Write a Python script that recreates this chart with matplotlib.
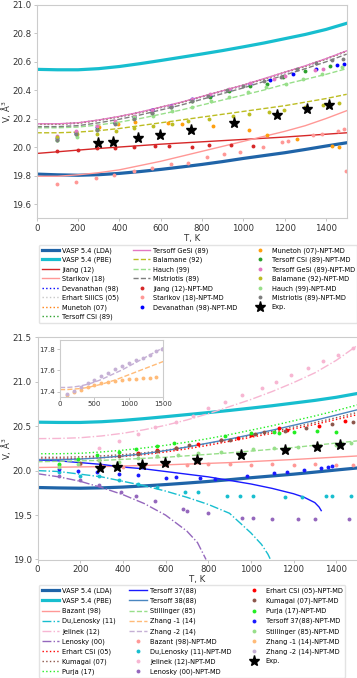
import matplotlib
matplotlib.use("Agg")
import matplotlib.pyplot as plt

plt.rcParams['font.family'] = ['DejaVu Sans']
plt.rcParams['axes.edgecolor'] = '#cccccc'
plt.rcParams['xtick.color'] = '#bbbbbb'
plt.rcParams['ytick.color'] = '#bbbbbb'
plt.rcParams['xtick.labelcolor'] = '#333333'
plt.rcParams['ytick.labelcolor'] = '#333333'

# ---------------- data: top panel ----------------
T16 = [0, 100, 200, 300, 400, 500, 600, 700, 800, 900, 1000, 1100, 1200, 1300, 1400, 1500]
vasp_lda = [19.810, 19.805, 19.802, 19.806, 19.815, 19.828, 19.843, 19.860, 19.878, 19.898,
            19.920, 19.940, 19.960, 19.983, 20.007, 20.030]
vasp_pbe = [20.545, 20.542, 20.542, 20.550, 20.565, 20.585, 20.607, 20.630, 20.653, 20.677,
            20.703, 20.730, 20.760, 20.790, 20.825, 20.868]
T6 = [0, 300, 600, 900, 1200, 1500]
jiang = [19.955, 19.99, 20.02, 20.045, 20.07, 20.10]
starikov = [19.795, 19.795, 19.805, 19.82, 19.84, 19.87, 19.90, 19.935, 19.97, 20.005,
            20.04, 20.075, 20.11, 20.15, 20.20, 20.255]
devanathan = [20.160, 20.160, 20.167, 20.187, 20.212, 20.242, 20.277, 20.312, 20.352, 20.392,
              20.432, 20.477, 20.522, 20.567, 20.617, 20.672]
erhart_si = [20.158, 20.158, 20.165, 20.185, 20.210, 20.240, 20.275, 20.310, 20.350, 20.390,
             20.430, 20.475, 20.520, 20.565, 20.615, 20.670]
munetoh = [20.161, 20.161, 20.168, 20.188, 20.213, 20.243, 20.278, 20.313, 20.353, 20.393,
           20.433, 20.478, 20.523, 20.568, 20.618, 20.673]
tersoff_csi = [20.162, 20.162, 20.169, 20.189, 20.214, 20.244, 20.279, 20.314, 20.354, 20.394,
               20.434, 20.479, 20.524, 20.569, 20.619, 20.674]
tersoff_gesi = [20.163, 20.163, 20.170, 20.190, 20.215, 20.245, 20.280, 20.315, 20.355, 20.395,
                20.435, 20.480, 20.525, 20.570, 20.620, 20.675]
balamane = [20.10, 20.10, 20.105, 20.115, 20.13, 20.15, 20.17, 20.19, 20.21, 20.23,
            20.25, 20.27, 20.29, 20.315, 20.34, 20.37]
hauch = [20.135, 20.135, 20.14, 20.155, 20.175, 20.20, 20.23, 20.26, 20.295, 20.33,
         20.365, 20.40, 20.44, 20.475, 20.51, 20.55]
mistriotis = [20.143, 20.143, 20.15, 20.17, 20.195, 20.225, 20.26, 20.295, 20.335, 20.375,
              20.415, 20.46, 20.505, 20.55, 20.598, 20.652]

jiang_md_T = [100, 198, 290, 379, 473, 573, 642, 750, 835, 940, 1048]
jiang_md_V = [19.972, 19.979, 19.99, 19.995, 19.998, 20.007, 20.01, 19.998, 20.014, 20.014, 20.01]
starikov_md_T = [100, 190, 285, 376, 473, 556, 648, 731, 826, 906, 984, 1097, 1185, 1216, 1335, 1379, 1460, 1489, 1495]
starikov_md_V = [19.74, 19.758, 19.78, 19.805, 19.833, 19.853, 19.879, 19.886, 19.928, 19.95,
                 19.967, 20.002, 20.033, 20.044, 20.084, 20.088, 20.112, 20.128, 19.83]
devanathan_md_T = [100, 190, 290, 380, 470, 560, 650, 750, 840, 930, 1030, 1129, 1242, 1350, 1452, 1487]
devanathan_md_V = [20.06, 20.10, 20.14, 20.17, 20.21, 20.26, 20.29, 20.335, 20.36, 20.40,
                   20.44, 20.467, 20.514, 20.55, 20.577, 20.58]
munetoh_md_T = [300, 395, 476, 637, 702, 855, 1029, 1113, 1258, 1431, 1465]
munetoh_md_V = [20.14, 20.165, 20.174, 20.17, 20.165, 20.147, 20.123, 20.086, 20.056, 20.007, 20.0]
tersoff_csi_md_T = [100, 190, 290, 380, 470, 560, 650, 750, 840, 930, 1032, 1113, 1190, 1298, 1419]
tersoff_csi_md_V = [20.05, 20.09, 20.13, 20.17, 20.21, 20.24, 20.28, 20.32, 20.35, 20.39,
                    20.43, 20.44, 20.49, 20.53, 20.57]
tersoff_gesi_md_T = [100, 190, 290, 380, 470, 560, 650, 750, 840, 930, 1030, 1150, 1200, 1347, 1384]
tersoff_gesi_md_V = [20.075, 20.11, 20.15, 20.18, 20.22, 20.26, 20.29, 20.34, 20.37, 20.41,
                     20.45, 20.48, 20.50, 20.54, 20.55]
balamane_md_T = [100, 197, 290, 382, 473, 565, 656, 734, 835, 952, 1029, 1126, 1198, 1298, 1387, 1465]
balamane_md_V = [20.067, 20.09, 20.09, 20.114, 20.135, 20.149, 20.16, 20.18, 20.20, 20.216,
                 20.23, 20.247, 20.263, 20.28, 20.293, 20.31]
hauch_md_T = [100, 197, 290, 382, 473, 565, 656, 750, 842, 932, 1021, 1110, 1205, 1290, 1379, 1479]
hauch_md_V = [20.05, 20.07, 20.12, 20.17, 20.21, 20.22, 20.25, 20.28, 20.32, 20.35,
              20.385, 20.42, 20.44, 20.475, 20.51, 20.56]
mistriotis_md_T = [100, 190, 290, 380, 470, 560, 650, 750, 830, 920, 1000, 1100, 1180, 1260, 1350, 1430, 1480]
mistriotis_md_V = [20.05, 20.09, 20.12, 20.16, 20.20, 20.24, 20.28, 20.32, 20.36, 20.40,
                   20.43, 20.465, 20.49, 20.55, 20.59, 20.61, 20.62]

exp_T = [295, 371, 492, 598, 747, 956, 1161, 1310, 1416]
exp_V = [20.026, 20.037, 20.065, 20.086, 20.123, 20.172, 20.228, 20.267, 20.293]

# ---------------- data: bottom panel ----------------
bazant = [20.035, 20.045, 20.065, 20.09, 20.125, 20.165]
T_dulenosky = [0, 100, 200, 300, 400, 500, 600, 700, 800, 900, 1000, 1050, 1080, 1092]
du_lenosky = [20.0, 19.99, 19.96, 19.93, 19.88, 19.83, 19.77, 19.70, 19.62, 19.52, 19.30, 19.17, 19.06, 19.0]
jelinek = [20.36, 20.362, 20.37, 20.39, 20.42, 20.46, 20.51, 20.57, 20.64, 20.72,
           20.80, 20.89, 20.99, 21.10, 21.24, 21.41]
T_lenosky = [0, 100, 200, 300, 400, 500, 600, 700, 750, 790]
lenosky = [19.965, 19.93, 19.88, 19.81, 19.73, 19.63, 19.50, 19.32, 19.19, 19.0]
erhart_csi = [20.13, 20.13, 20.135, 20.145, 20.16, 20.18, 20.21, 20.245, 20.285, 20.33,
              20.375, 20.42, 20.47, 20.52, 20.575, 20.63]
kumagai = [20.15, 20.15, 20.155, 20.165, 20.18, 20.20, 20.23, 20.265, 20.305, 20.35,
           20.395, 20.44, 20.49, 20.54, 20.595, 20.655]
purja = [20.19, 20.19, 20.195, 20.21, 20.23, 20.255, 20.285, 20.32, 20.36, 20.405,
         20.455, 20.505, 20.56, 20.615, 20.675, 20.74]
T_t37 = [0, 100, 200, 300, 400, 500, 600, 700, 800, 900, 1000, 1100, 1200, 1250, 1300, 1320, 1330]
tersoff37 = [20.12, 20.11, 20.09, 20.07, 20.04, 20.02, 19.99, 19.96, 19.93, 19.89,
             19.85, 19.80, 19.74, 19.70, 19.64, 19.59, 19.55]
tersoff38 = [20.125, 20.125, 20.13, 20.145, 20.165, 20.19, 20.225, 20.265, 20.31, 20.355,
             20.405, 20.455, 20.51, 20.565, 20.625, 20.685]
stillinger = [20.10, 20.115, 20.15, 20.20, 20.26, 20.335]
zhang1 = [17.42, 17.42, 17.425, 17.43, 17.44, 17.455, 17.47, 17.49, 17.51, 17.535,
          17.56, 17.585, 17.61, 17.635, 17.66, 17.685]
zhang2 = [17.44, 17.44, 17.445, 17.455, 17.47, 17.49, 17.515, 17.545, 17.575, 17.605,
          17.64, 17.675, 17.71, 17.745, 17.78, 17.815]

bazant_md_T = [100, 200, 300, 400, 500, 600, 700, 800, 900, 1000, 1100, 1200, 1300, 1400, 1480]
bazant_md_V = [20.06, 20.08, 20.05, 20.04, 20.05, 20.06, 20.06, 20.07, 20.07, 20.06,
               20.07, 20.06, 20.07, 20.06, 20.06]
dulenosky_md_T = [100, 200, 290, 380, 470, 560, 690, 750, 890, 950, 1010, 1160, 1240, 1350, 1380, 1470]
dulenosky_md_V = [19.98, 19.94, 19.94, 19.89, 19.85, 19.82, 19.76, 19.76, 19.71, 19.71,
                  19.71, 19.70, 19.70, 19.71, 19.71, 19.71]
jelinek_md_T = [290, 380, 470, 550, 650, 730, 800, 880, 960, 1050, 1120, 1190, 1270, 1340, 1410, 1480]
jelinek_md_V = [20.25, 20.33, 20.41, 20.49, 20.55, 20.62, 20.71, 20.77, 20.85, 20.93,
                21.0, 21.08, 21.16, 21.23, 21.30, 21.38]
lenosky_md_T = [100, 200, 290, 390, 460, 550, 680, 700, 800, 960, 1010, 1100, 1220, 1300, 1460]
lenosky_md_V = [19.94, 19.90, 19.84, 19.76, 19.72, 19.66, 19.57, 19.55, 19.52, 19.47,
                19.47, 19.46, 19.46, 19.46, 19.46]
erhart_csi_md_T = [470, 560, 650, 750, 860, 940, 1000, 1130, 1170, 1320, 1440]
erhart_csi_md_V = [20.20, 20.23, 20.26, 20.30, 20.34, 20.37, 20.40, 20.48, 20.46, 20.50, 20.56]
kumagai_md_T = [200, 290, 380, 470, 560, 650, 710, 860, 900, 1020, 1060, 1160, 1260, 1380, 1480]
kumagai_md_V = [20.09, 20.12, 20.16, 20.19, 20.22, 20.26, 20.29, 20.35, 20.35, 20.41,
                20.43, 20.45, 20.48, 20.52, 20.55]
purja_md_T = [100, 190, 280, 380, 460, 560, 640, 880, 1000, 1110, 1130, 1200, 1310, 1400]
purja_md_V = [20.07, 20.13, 20.18, 20.21, 20.24, 20.28, 20.31, 20.39, 20.42, 20.44,
              20.42, 20.43, 20.45, 20.44]
tersoff37_md_T = [100, 190, 280, 380, 470, 600, 650, 760, 830, 980, 1110, 1170, 1250, 1330, 1360, 1380]
tersoff37_md_V = [20.02, 20.00, 19.98, 19.96, 19.95, 19.92, 19.93, 19.92, 19.91, 19.94,
                  19.97, 19.98, 20.01, 20.03, 20.04, 20.05]
stillinger_md_T = [100, 190, 290, 380, 470, 560, 660, 750, 860, 1010, 1110, 1220, 1320, 1400, 1470]
stillinger_md_V = [20.04, 20.07, 20.12, 20.10, 20.14, 20.17, 20.18, 20.20, 20.21, 20.24,
                   20.26, 20.27, 20.28, 20.29, 20.31]
zhang1_md_T = [100, 200, 300, 400, 500, 600, 700, 800, 900, 1000, 1100, 1200, 1300, 1400]
zhang1_md_V = [17.37, 17.40, 17.42, 17.44, 17.46, 17.48, 17.49, 17.50, 17.51, 17.52,
               17.52, 17.53, 17.53, 17.54]
zhang2_md_T = [100, 200, 300, 400, 500, 600, 700, 800, 900, 1000, 1100, 1200, 1300, 1400, 1480]
zhang2_md_V = [17.38, 17.41, 17.44, 17.48, 17.51, 17.55, 17.58, 17.61, 17.64, 17.67,
               17.70, 17.72, 17.75, 17.78, 17.80]

# ---------------- styles ----------------
C_LDA = '#1f64a8'
C_PBE = '#17becf'
MS = 2.8
LW = 1.0
FS = 6.2

fig = plt.figure(figsize=(3.57, 6.78), dpi=100)
ax1 = fig.add_axes([36.7 / 357, 1 - 218.3 / 678, 310 / 357, (218.3 - 4.5) / 678])
ax2 = fig.add_axes([37.5 / 357, 1 - 559.5 / 678, 320 / 357, (559.5 - 337.3) / 678])
axin = fig.add_axes([60 / 357, 1 - 396.5 / 678, 103.3 / 357, (396.5 - 339.7) / 678])


def md(ax, T, V, color, label):
    ax.plot(T, V, linestyle='none', marker='o', ms=MS, color=color, label=label, mec='none')


# top panel
ax1.plot(T16, vasp_lda, color=C_LDA, lw=2.3, label='VASP 5.4 (LDA)')
ax1.plot(T16, vasp_pbe, color=C_PBE, lw=2.3, label='VASP 5.4 (PBE)')
ax1.plot(T6, jiang, color='#d62728', lw=LW, label='Jiang (12)')
ax1.plot(T16, starikov, color='#ff9896', lw=LW, label='Starikov (18)')
ax1.plot(T16, devanathan, color='blue', lw=LW, ls=':', label='Devanathan (98)')
ax1.plot(T16, erhart_si, color='#c7c7c7', lw=LW, ls=':', label='Erhart SiIICS (05)')
ax1.plot(T16, munetoh, color='#ff7f0e', lw=LW, ls=':', label='Munetoh (07)')
ax1.plot(T16, tersoff_csi, color='#2ca02c', lw=LW, ls=':', label='Tersoff CSi (89)')
ax1.plot(T16, tersoff_gesi, color='#e377c2', lw=LW, label='Tersoff GeSi (89)')
ax1.plot(T16, balamane, color='#bcbd22', lw=LW, ls='--', label='Balamane (92)')
ax1.plot(T16, hauch, color='#98df8a', lw=LW, ls='--', label='Hauch (99)')
ax1.plot(T16, mistriotis, color='#7f7f7f', lw=LW, ls='--', label='Mistriotis (89)')
md(ax1, jiang_md_T, jiang_md_V, '#d62728', 'Jiang (12)-NPT-MD')
md(ax1, starikov_md_T, starikov_md_V, '#ff9896', 'Starikov (18)-NPT-MD')
md(ax1, devanathan_md_T, devanathan_md_V, 'blue', 'Devanathan (98)-NPT-MD')
md(ax1, munetoh_md_T, munetoh_md_V, '#ff9f0e', 'Munetoh (07)-NPT-MD')
md(ax1, tersoff_csi_md_T, tersoff_csi_md_V, '#2ca02c', 'Tersoff CSi (89)-NPT-MD')
md(ax1, tersoff_gesi_md_T, tersoff_gesi_md_V, '#e377c2', 'Tersoff GeSi (89)-NPT-MD')
md(ax1, balamane_md_T, balamane_md_V, '#bcbd22', 'Balamane (92)-NPT-MD')
md(ax1, hauch_md_T, hauch_md_V, '#98df8a', 'Hauch (99)-NPT-MD')
md(ax1, mistriotis_md_T, mistriotis_md_V, '#7f7f7f', 'Mistriotis (89)-NPT-MD')
ax1.plot(exp_T, exp_V, linestyle='none', marker='*', ms=8, color='black', label='Exp.')

ax1.set_xlim(0, 1500)
ax1.set_ylim(19.5, 21.0)
ax1.set_xticks([0, 200, 400, 600, 800, 1000, 1200, 1400])
ax1.set_yticks([19.6, 19.8, 20.0, 20.2, 20.4, 20.6, 20.8, 21.0])
ax1.set_xlabel('T, K', fontsize=FS, color='#333333', labelpad=1)
ax1.set_ylabel('V, Å$^3$', fontsize=FS, color='#333333')
ax1.yaxis.set_label_coords((13 - 36.7) / 310, 0.5)

# bottom panel
ax2.plot(T16, vasp_lda, color=C_LDA, lw=2.3, label='VASP 5.4 (LDA)')
ax2.plot(T16, vasp_pbe, color=C_PBE, lw=2.3, label='VASP 5.4 (PBE)')
ax2.plot(T6, bazant, color='#ff9896', lw=LW, label='Bazant (98)')
ax2.plot(T_dulenosky, du_lenosky, color='#17becf', lw=LW, ls='-.', label='Du,Lenosky (11)')
ax2.plot(T16, jelinek, color='#f7b6d2', lw=LW, ls='-.', label='Jelinek (12)')
ax2.plot(T_lenosky, lenosky, color='#9467bd', lw=LW, ls='-.', label='Lenosky (00)')
ax2.plot(T16, erhart_csi, color='red', lw=LW, ls=':', label='Erhart CSi (05)')
ax2.plot(T16, kumagai, color='#8c564b', lw=LW, ls=':', label='Kumagai (07)')
ax2.plot(T16, purja, color='#22ee22', lw=LW, ls=':', label='Purja (17)')
ax2.plot(T_t37, tersoff37, color='#1a1aff', lw=LW, label='Tersoff 37(88)')
ax2.plot(T16, tersoff38, color='#4a86c0', lw=LW, label='Tersoff 38(88)')
ax2.plot(T6, stillinger, color='#98df8a', lw=LW, ls='--', label='Stillinger (85)')
ax2.plot(T16, zhang1, color='#ffbb78', lw=LW, ls='--', label='Zhang -1 (14)')
ax2.plot(T16, zhang2, color='#c5b0d5', lw=LW, ls='--', label='Zhang -2 (14)')
md(ax2, bazant_md_T, bazant_md_V, '#ff9896', 'Bazant (98)-NPT-MD')
md(ax2, dulenosky_md_T, dulenosky_md_V, '#17becf', 'Du,Lenosky (11)-NPT-MD')
md(ax2, jelinek_md_T, jelinek_md_V, '#f7b6d2', 'Jelinek (12)-NPT-MD')
md(ax2, lenosky_md_T, lenosky_md_V, '#9467bd', 'Lenosky (00)-NPT-MD')
md(ax2, erhart_csi_md_T, erhart_csi_md_V, 'red', 'Erhart CSi (05)-NPT-MD')
md(ax2, kumagai_md_T, kumagai_md_V, '#8c564b', 'Kumagai (07)-NPT-MD')
md(ax2, purja_md_T, purja_md_V, '#22ee22', 'Purja (17)-NPT-MD')
md(ax2, tersoff37_md_T, tersoff37_md_V, '#1a1aff', 'Tersoff 37(88)-NPT-MD')
md(ax2, stillinger_md_T, stillinger_md_V, '#98df8a', 'Stillinger (85)-NPT-MD')
md(ax2, zhang1_md_T, zhang1_md_V, '#ffbb78', 'Zhang -1 (14)-NPT-MD')
md(ax2, zhang2_md_T, zhang2_md_V, '#c5b0d5', 'Zhang -2 (14)-NPT-MD')
ax2.plot(exp_T, exp_V, linestyle='none', marker='*', ms=8, color='black', label='Exp.')

ax2.set_xlim(0, 1500)
ax2.set_ylim(19.0, 21.5)
ax2.set_xticks([0, 200, 400, 600, 800, 1000, 1200, 1400])
ax2.set_yticks([19.0, 19.5, 20.0, 20.5, 21.0, 21.5])
ax2.set_xlabel('T, K', fontsize=FS, color='#333333', labelpad=1)
ax2.set_ylabel('V, Å$^3$', fontsize=FS, color='#333333')
ax2.yaxis.set_label_coords((13 - 37.5) / 320, 0.5)

# inset
axin.plot(T16, zhang1, color='#ffbb78', lw=LW, ls='--')
axin.plot(T16, zhang2, color='#c5b0d5', lw=LW, ls='--')
axin.plot(zhang1_md_T, zhang1_md_V, linestyle='none', marker='o', ms=MS, color='#ffbb78', mec='none')
axin.plot(zhang2_md_T, zhang2_md_V, linestyle='none', marker='o', ms=MS, color='#c5b0d5', mec='none')
axin.set_xlim(0, 1500)
axin.set_ylim(17.355, 17.89)
axin.set_xticks([0, 500, 1000, 1500])
axin.set_yticks([17.4, 17.6, 17.8])
axin.tick_params(labelsize=5.0, length=2, width=0.6, pad=1.5)

for ax in (ax1, ax2):
    ax.tick_params(labelsize=FS, length=2.5, width=0.6, pad=1.5)
for ax in (ax1, ax2, axin):
    for s in ax.spines.values():
        s.set_linewidth(0.8)

leg_kw = dict(loc='upper left', ncol=3, fontsize=4.8, frameon=True, numpoints=1,
              handlelength=2.65, handletextpad=0.45, borderpad=0.4, columnspacing=2.0,
              edgecolor='#dddddd', fancybox=True, borderaxespad=0)
h1, l1 = ax1.get_legend_handles_labels()
lg1 = fig.legend(h1, l1, bbox_to_anchor=(39 / 357, 1 - 244.5 / 678), labelspacing=0.45, **leg_kw)
h2, l2 = ax2.get_legend_handles_labels()
lg2 = fig.legend(h2, l2, bbox_to_anchor=(39 / 357, 1 - 585 / 678), labelspacing=0.54, **leg_kw)

fig.savefig('out.png', dpi=100)
